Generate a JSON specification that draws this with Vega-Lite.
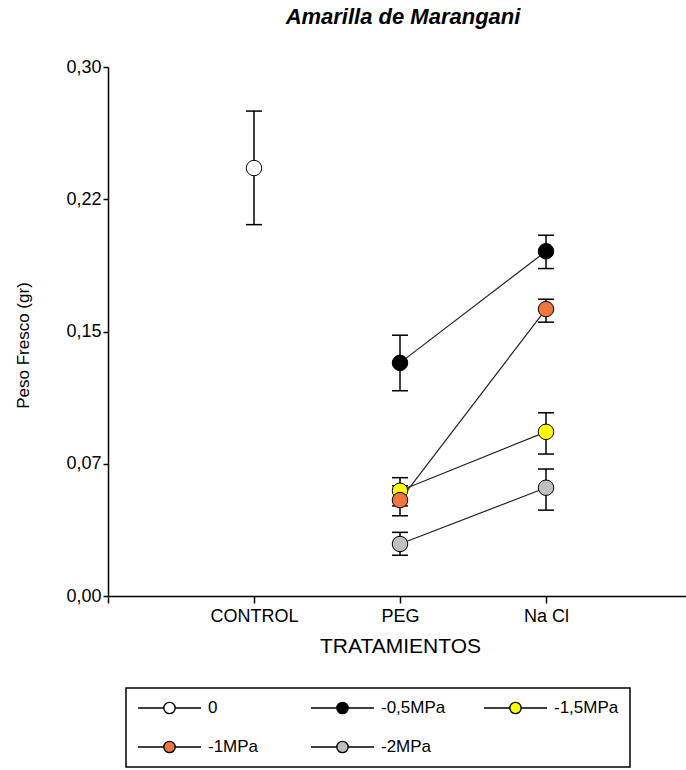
{
  "$schema": "https://vega.github.io/schema/vega-lite/v6.json",
  "width": 578,
  "height": 529,
  "autosize": {"type": "none"},
  "padding": {"left": 108, "top": 67, "right": 0, "bottom": 174},
  "background": "white",
  "config": {"view": {"stroke": null}, "font": "Liberation Sans"},
  "title": {
    "text": "Amarilla de Marangani",
    "font": "Liberation Sans",
    "fontSize": 22,
    "fontStyle": "italic",
    "fontWeight": "bold",
    "color": "black",
    "anchor": "middle",
    "frame": "group",
    "dx": 6,
    "offset": 29
  },
  "data": {
    "values": [
      {"trat": "CONTROL", "serie": "0", "peso": 0.2427, "lo": 0.2106, "hi": 0.2750},
      {"trat": "PEG", "serie": "-0,5MPa", "peso": 0.1322, "lo": 0.1164, "hi": 0.1479},
      {"trat": "Na Cl", "serie": "-0,5MPa", "peso": 0.1955, "lo": 0.1857, "hi": 0.2046},
      {"trat": "PEG", "serie": "-1,5MPa", "peso": 0.0597, "lo": 0.0511, "hi": 0.0671},
      {"trat": "Na Cl", "serie": "-1,5MPa", "peso": 0.0931, "lo": 0.0805, "hi": 0.1039},
      {"trat": "PEG", "serie": "-1MPa", "peso": 0.0544, "lo": 0.0455, "hi": 0.0625},
      {"trat": "Na Cl", "serie": "-1MPa", "peso": 0.1627, "lo": 0.1553, "hi": 0.1683},
      {"trat": "PEG", "serie": "-2MPa", "peso": 0.0295, "lo": 0.0231, "hi": 0.0361},
      {"trat": "Na Cl", "serie": "-2MPa", "peso": 0.0614, "lo": 0.0487, "hi": 0.0720}
    ]
  },
  "encoding": {
    "x": {
      "field": "trat",
      "type": "nominal",
      "scale": {"type": "point", "domain": [" ", "CONTROL", "PEG", "Na Cl", "  "], "range": [0, 584], "padding": 0},
      "axis": {
        "title": "TRATAMIENTOS",
        "titleFont": "Liberation Sans",
        "titleFontSize": 21,
        "titleFontWeight": "normal",
        "titleColor": "black",
        "titlePadding": 10,
        "labelFont": "Liberation Sans",
        "labelFontSize": 18,
        "labelColor": "black",
        "labelAngle": 0,
        "labelPadding": 4,
        "domainColor": "black",
        "domainWidth": 1.5,
        "tickColor": "black",
        "tickWidth": 1.5,
        "tickSize": 7,
        "grid": false
      }
    }
  },
  "layer": [
    {
      "mark": {"type": "line", "color": "#222222", "strokeWidth": 1.2},
      "encoding": {
        "y": {
          "field": "peso",
          "type": "quantitative",
          "scale": {"domain": [0, 0.3], "nice": false, "zero": true},
          "axis": {
            "title": "Peso Fresco (gr)",
            "titleFont": "Liberation Sans",
            "titleFontSize": 17,
            "titleFontWeight": "normal",
            "titleColor": "black",
            "titleAngle": -90,
            "titleX": -80,
            "titleY": 278,
            "titleAlign": "center",
            "titleBaseline": "alphabetic",
            "values": [0, 0.075, 0.15, 0.225, 0.3],
            "labelExpr": "replace(format(floor(datum.value * 100 + 0.000001) / 100, '.2f'), '.', ',')",
            "labelFont": "Liberation Sans",
            "labelFontSize": 18,
            "labelColor": "black",
            "labelPadding": 2,
            "domainColor": "black",
            "domainWidth": 1.5,
            "tickColor": "black",
            "tickWidth": 1.5,
            "tickSize": 5,
            "grid": false
          }
        },
        "detail": {"field": "serie", "type": "nominal"}
      }
    },
    {
      "mark": {"type": "rule", "color": "black", "strokeWidth": 1.5},
      "encoding": {
        "y": {"field": "lo", "type": "quantitative"},
        "y2": {"field": "hi"}
      }
    },
    {
      "mark": {"type": "tick", "orient": "horizontal", "color": "black", "size": 16, "thickness": 1.5, "opacity": 1},
      "encoding": {"y": {"field": "lo", "type": "quantitative"}}
    },
    {
      "mark": {"type": "tick", "orient": "horizontal", "color": "black", "size": 16, "thickness": 1.5, "opacity": 1},
      "encoding": {"y": {"field": "hi", "type": "quantitative"}}
    },
    {
      "mark": {"type": "point", "shape": "circle", "filled": true, "size": 240, "stroke": "black", "strokeWidth": 1, "opacity": 1},
      "encoding": {
        "y": {"field": "peso", "type": "quantitative"},
        "color": {
          "field": "serie",
          "type": "nominal",
          "scale": {
            "domain": ["0", "-0,5MPa", "-1,5MPa", "-1MPa", "-2MPa"],
            "range": ["#ffffff", "#000000", "#ffff00", "#f0743e", "#c0c0c0"]
          },
          "legend": {
            "orient": "none",
            "legendX": 18,
            "legendY": 621,
            "title": null,
            "columns": 3,
            "direction": "horizontal",
            "gridAlign": "all",
            "columnPadding": 37,
            "rowPadding": 21,
            "padding": 11,
            "strokeColor": "black",
            "fillColor": "white",
            "symbolType": "M-1,0L-0.18,0M0.18,0L1,0M0.18,0A0.18,0.18,0,1,1,-0.18,0A0.18,0.18,0,1,1,0.18,0Z",
            "symbolSize": 3969,
            "symbolStrokeColor": "black",
            "symbolStrokeWidth": 1.4,
            "symbolOpacity": 1,
            "labelFont": "Liberation Sans",
            "labelFontSize": 17,
            "labelColor": "black",
            "labelOffset": 6,
            "clipHeight": 18,
            "encode": {"legend": {"update": {"strokeWidth": {"value": 1.5}}}}
          }
        }
      }
    }
  ]
}
